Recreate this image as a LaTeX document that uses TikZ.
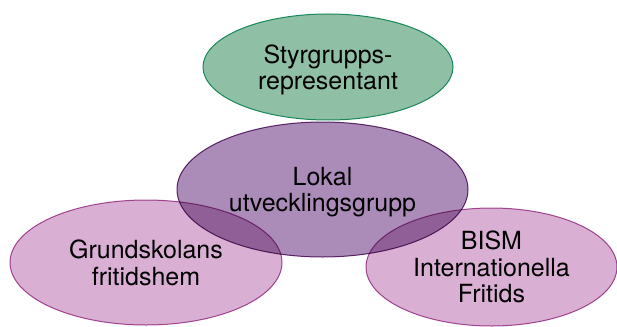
\documentclass[tikz,border=0pt]{standalone}
\usepackage{fontspec}
\setmainfont{TeX Gyre Heros}
\usetikzlibrary{shapes.geometric}
\definecolor{grfill}{HTML}{8FBFA5}
\definecolor{grline}{HTML}{1A875C}
\definecolor{pufill}{HTML}{AB8BB8}
\definecolor{puline}{HTML}{6E2E78}
\definecolor{pkfill}{HTML}{D9AFD3}
\definecolor{pkline}{HTML}{B0529E}
\tikzset{
  bubble/.style={ellipse, inner sep=0pt, line width=1pt, align=center,
    font=\fontsize{25}{26.5}\selectfont, text=black, text depth=0pt},
  greenbubble/.style={bubble, draw=grline, fill=grfill},
  purplebubble/.style={bubble, draw=puline, fill=pufill},
  pinkbubble/.style={bubble, draw=pkline, fill=pkfill},
}
\begin{document}
\begin{tikzpicture}[x=1pt,y=-1pt]
\useasboundingbox (0,0) rectangle (617,326);
\node[greenbubble, minimum width=250pt, minimum height=106pt] (styr) at (328,67) {Styrgrupps-\\representant};
\begin{scope}[blend mode=multiply]
\node[pinkbubble, minimum width=272pt, minimum height=125pt] (grund) at (146,262.5) {Grundskolans\\fritidshem};
\node[pinkbubble, minimum width=251pt, minimum height=118pt] (bism) at (491.5,267) {BISM\\Internationella\\Fritids};
\node[purplebubble, minimum width=291pt, minimum height=135pt] (lokal) at (322.5,189.5) {Lokal\\utvecklingsgrupp};
\end{scope}
\end{tikzpicture}
\end{document}
